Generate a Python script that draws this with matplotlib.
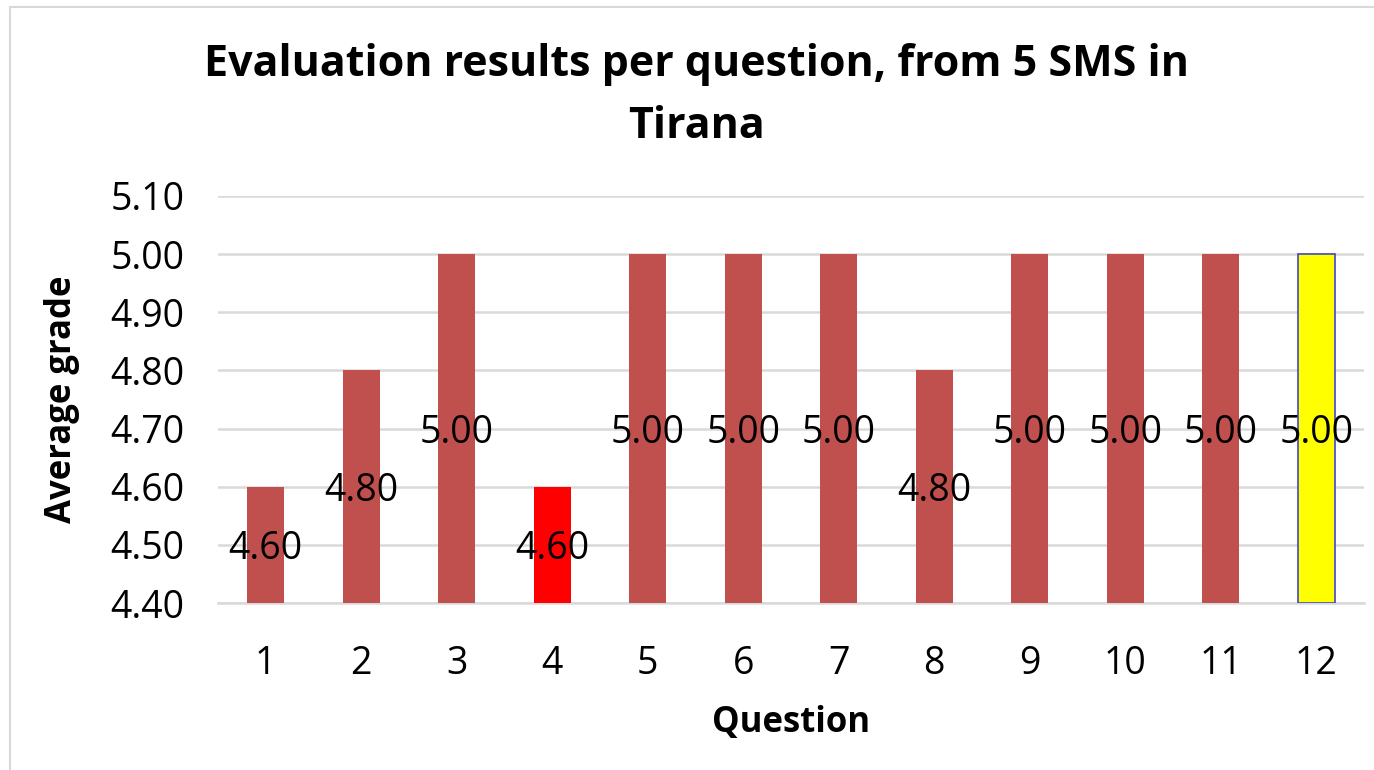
import matplotlib.pyplot as plt
import matplotlib.patches as mpatches
import numpy as np

plt.rcParams['font.family'] = ['Open Sans', 'DejaVu Sans']

questions = ['1', '2', '3', '4', '5', '6', '7', '8', '9', '10', '11', '12']
grades = [4.60, 4.80, 5.00, 4.60, 5.00, 5.00, 5.00, 4.80, 5.00, 5.00, 5.00, 5.00]
bar_colors = ['#C0504D'] * 12
bar_colors[3] = '#FF0000'
bar_colors[11] = '#FFFF00'
y_ticks = [4.40, 4.50, 4.60, 4.70, 4.80, 4.90, 5.00, 5.10]
y_min = 4.40

fig = plt.figure(figsize=(13.74, 7.7), dpi=100)
ax = fig.add_axes([218/1374, 1 - 603/770, (1364 - 218)/1374, (603 - 196)/770])

# outer chart frame (runs past right and bottom edge like the screenshot)
fig.patches.append(mpatches.Rectangle((10/1374, -0.1), 1.1, 1.1 - 7/770, transform=fig.transFigure,
                                      fill=False, edgecolor='#d9d9d9', lw=1.5, zorder=0))

x = np.arange(len(questions))
heights = [g - y_min for g in grades]
bars = ax.bar(x, heights, bottom=y_min, width=0.39, color=bar_colors, zorder=3)
bars[11].set_edgecolor('#3F48CC')
bars[11].set_linewidth(1.2)

for xi, g in zip(x, grades):
    ax.text(xi, (y_min + g) / 2, f'{g:.2f}', ha='center', va='center_baseline', fontsize=27, zorder=4)

ax.set_xlim(-0.5, len(questions) - 0.5)
ax.set_ylim(4.40, 5.10)
ax.set_yticks(y_ticks)
ax.set_yticklabels([f'{v:.2f}' for v in y_ticks])
ax.set_xticks(x)
ax.set_xticklabels(questions)
ax.tick_params(axis='both', length=0, labelsize=27)
ax.tick_params(axis='y', pad=24)
ax.tick_params(axis='x', pad=30)
ax.grid(axis='y', color='#d9d9d9', lw=1.8, zorder=0)
for s in ['top', 'right', 'left']:
    ax.spines[s].set_visible(False)
ax.spines['bottom'].set_color('#d9d9d9')
ax.spines['bottom'].set_linewidth(1.8)

ax.set_xlabel('Question', fontsize=25, fontweight='bold', labelpad=16)
ax.set_ylabel('Average grade', fontsize=25, fontweight='bold', labelpad=22)
fig.text(0.507, 0.876, 'Evaluation results per question, from 5 SMS in\nTirana', ha='center', va='center',
         fontsize=31, fontweight='bold', linespacing=1.6)

fig.savefig('out.png', dpi=100)
